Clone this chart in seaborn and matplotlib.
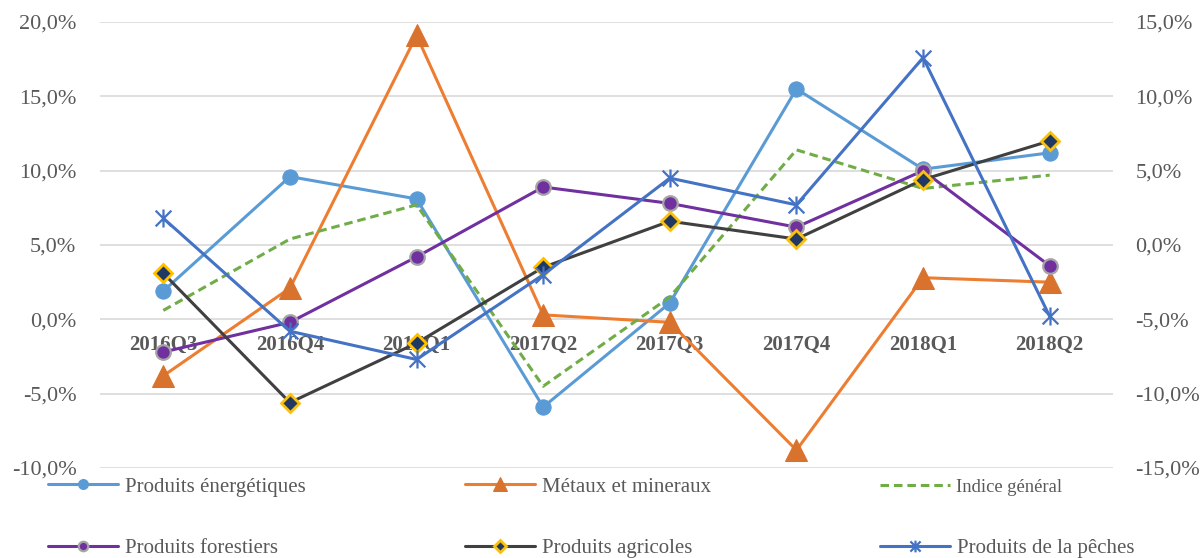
import numpy as np
import pandas as pd
import matplotlib
matplotlib.use("Agg")
import matplotlib.pyplot as plt
from matplotlib.path import Path
from matplotlib.ticker import FuncFormatter, MultipleLocator
import seaborn as sns

# Quarters on the category axis
trimestres = ["2016Q3", "2016Q4", "2017Q1", "2017Q2", "2017Q3", "2017Q4", "2018Q1", "2018Q2"]

# Quarterly price variations (%)
energetiques = [1.9, 9.6, 8.1, -5.9, 1.1, 15.5, 10.1, 11.2]
metaux = [-3.8, 2.1, 19.1, 0.3, -0.2, -8.8, 2.8, 2.5]
indice_general = [0.6, 5.4, 7.7, -4.5, 1.5, 11.4, 8.8, 9.7]
forestiers = [-2.2, -0.2, 4.2, 8.9, 7.8, 6.2, 10.0, 3.6]
agricoles = [3.1, -5.6, -1.6, 3.5, 6.6, 5.4, 9.4, 12.0]
peche = [6.8, -0.8, -2.7, 3.0, 9.5, 7.7, 17.6, 0.2]

sns.set_style("white")
plt.rcParams["font.family"] = ["Liberation Serif", "DejaVu Serif"]

GRAY_TXT = "#595959"

# Asterisk marker: an X crossed by a vertical stroke
asterisk = Path(
    [(-1, -1), (1, 1), (-1, 1), (1, -1), (0, -1.15), (0, 1.15)],
    [Path.MOVETO, Path.LINETO, Path.MOVETO, Path.LINETO, Path.MOVETO, Path.LINETO],
)

x = np.arange(len(trimestres))
df = pd.DataFrame({
    "pos": x,
    "Produits énergétiques": energetiques,
    "Métaux et mineraux": metaux,
    "Indice général": indice_general,
    "Produits forestiers": forestiers,
    "Produits agricoles": agricoles,
    "Produits de la pêches": peche,
})

styles = {
    "Produits énergétiques": dict(color="#5B9BD5", marker="o", markersize=11,
                                  markerfacecolor="#5B9BD5", markeredgecolor="#5B9BD5"),
    "Métaux et mineraux": dict(color="#ED7D31", marker="^", markersize=16,
                               markerfacecolor="#D9722D", markeredgecolor="#D9722D"),
    "Indice général": dict(color="#70AD47", marker=None, dashes=(2.8, 1.6)),
    "Produits forestiers": dict(color="#7030A0", marker="o", markersize=10.5,
                                markerfacecolor="#7030A0", markeredgecolor="#A5A5A5",
                                markeredgewidth=1.6),
    "Produits agricoles": dict(color="#404040", marker="D", markersize=9.5,
                               markerfacecolor="#203864", markeredgecolor="#FFC000",
                               markeredgewidth=2.0),
    "Produits de la pêches": dict(color="#4472C4", marker=asterisk, markersize=13,
                                  markerfacecolor="none", markeredgecolor="#4472C4",
                                  markeredgewidth=1.6),
}

fig = plt.figure(figsize=(12.03, 5.58), dpi=100)
ax = fig.add_axes([100 / 1203, 1 - 468 / 558, (1113 - 100) / 1203, (468 - 22) / 558])

for name, st in styles.items():
    st = dict(st)
    dashes = st.pop("dashes", None)
    sns.lineplot(data=df, x="pos", y=name, ax=ax, label=name, linewidth=2.2,
                 **st)
    if dashes is not None:
        ax.lines[-1].set_dashes(dashes)

handles, labels = ax.get_legend_handles_labels()
if ax.get_legend() is not None:
    ax.get_legend().remove()

# Left value axis
ax.set_xlim(-0.5, len(trimestres) - 0.5)
ax.set_ylim(-10, 20)
ax.yaxis.set_major_locator(MultipleLocator(5))
pct = FuncFormatter(lambda v, _: f"{v:.1f}%".replace(".", ","))
ax.yaxis.set_major_formatter(pct)
ax.grid(axis="y", color="#D9D9D9", linewidth=1.2)
ax.grid(axis="x", visible=False)
ax.set_axisbelow(True)
ax.tick_params(axis="y", length=0, pad=17, labelsize=16, labelcolor=GRAY_TXT)

# Category axis crossing at zero
ax.spines["bottom"].set_position(("data", 0))
for s in ax.spines.values():
    s.set_color("none")
ax.set_xticks(x)
ax.set_xticklabels(trimestres)
ax.tick_params(axis="x", length=0, pad=11, labelsize=15, labelcolor=GRAY_TXT)
plt.setp(ax.get_xticklabels(), fontweight="bold")
ax.set_xlabel("")
ax.set_ylabel("")

# Secondary value axis
ax2 = ax.twinx()
ax2.set_ylim(-15, 15)
ax2.yaxis.set_major_locator(MultipleLocator(5))
ax2.yaxis.set_major_formatter(pct)
ax2.tick_params(axis="y", length=0, pad=16, labelsize=16, labelcolor=GRAY_TXT)
for s in ax2.spines.values():
    s.set_color("none")
ax2.grid(False)

# Legend entries laid out in two rows of three
slots = [(48, 487), (465, 487), (880, 487), (48, 548), (465, 548), (880, 548)]
for h, lab, (px, py) in zip(handles, labels, slots):
    fs = 13.4 if lab == "Indice général" else 15
    fig.legend([h], [lab], loc="center left",
               bbox_to_anchor=(px / 1203, 1 - py / 558),
               frameon=False, borderpad=0, borderaxespad=0,
               handlelength=70 / (fs * 100 / 72), handletextpad=0.33,
               markerscale=0.65, labelcolor=GRAY_TXT,
               prop={"family": ["Liberation Serif"], "size": fs})

fig.savefig("out.png", dpi=100)
